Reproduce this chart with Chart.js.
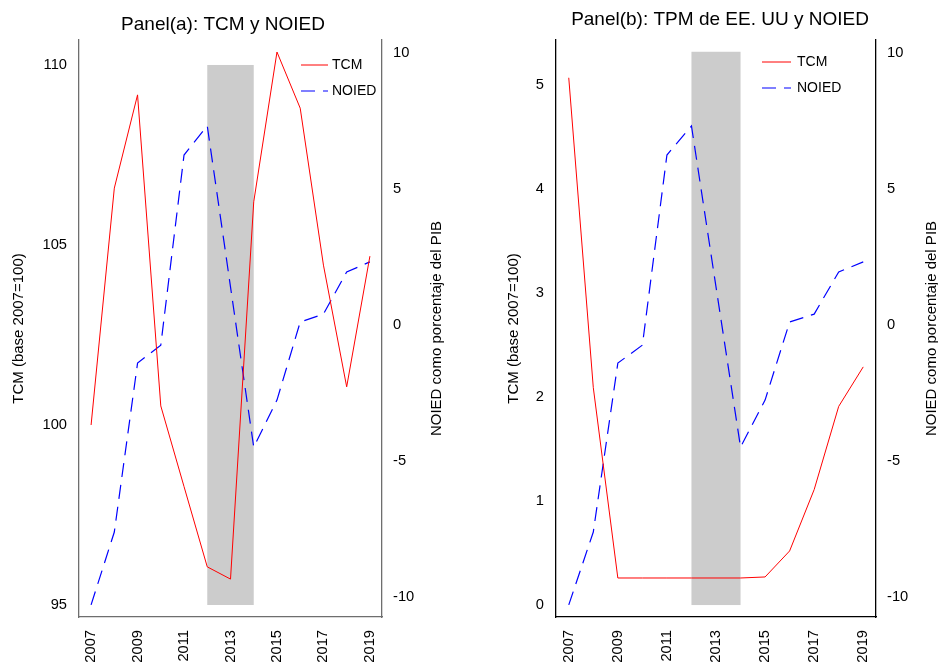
<!DOCTYPE html>
<html>
<head>
<meta charset="utf-8">
<script src="https://cdn.jsdelivr.net/npm/chart.js@4.4.1/dist/chart.umd.min.js"></script>
<style>
  body { margin: 0; background: #fff; }
  .wrap { display: flex; width: 938px; height: 663px; }
  canvas { display: block; }
</style>
</head>
<body>
<div class="wrap">
  <canvas id="panelA" width="469" height="663"></canvas>
  <canvas id="panelB" width="469" height="663"></canvas>
</div>
<script>
// values
const years = [2007, 2008, 2009, 2010, 2011, 2012, 2013, 2014, 2015, 2016, 2017, 2018, 2019];
const tcm = [100.0, 106.58, 109.17, 100.53, 98.29, 96.06, 95.72, 106.2, 110.36, 108.8, 104.44, 101.06, 104.69];
const tpm = [5.07, 2.09, 0.26, 0.26, 0.26, 0.26, 0.26, 0.26, 0.27, 0.52, 1.11, 1.91, 2.29];
const noied = [-10.29, -7.61, -1.40, -0.74, 6.25, 7.32, 1.4, -4.49, -2.76, 0.11, 0.40, 1.95, 2.32];

const yearTicks = [2007, 2009, 2011, 2013, 2015, 2017, 2019];
const tcmTicks = [95, 100, 105, 110];
const tpmTicks = [0, 1, 2, 3, 4, 5];
const noiedTicks = [-10, -5, 0, 5, 10];

// shaded period
const shadeYears = [2012, 2014];
const shadeA = [95, 110];
const shadeB = [0, 5.32];

const FONT = '"Liberation Sans", Arial, Helvetica, sans-serif';
const TICK_SIZE = 14.7;
Chart.defaults.font.family = FONT;
Chart.defaults.color = '#000';

const shadePlugin = {
  id: 'shade',
  beforeDatasetsDraw(chart, args, opts) {
    const { ctx, scales: { x, y } } = chart;
    const left = x.getPixelForValue(opts.years[0]);
    const right = x.getPixelForValue(opts.years[1]);
    const top = y.getPixelForValue(opts.range[1]);
    const bottom = y.getPixelForValue(opts.range[0]);
    ctx.save();
    ctx.fillStyle = '#cccccc';
    ctx.fillRect(left, top, right - left, bottom - top);
    ctx.restore();
  }
};

// legend drawn inside the plot, top right
const innerLegend = {
  id: 'innerLegend',
  afterDatasetsDraw(chart, args, opts) {
    const { ctx, chartArea } = chart;
    ctx.save();
    ctx.font = '14px ' + FONT;
    ctx.textBaseline = 'middle';
    chart.data.datasets.forEach((ds, i) => {
      const y = chartArea.top + opts.top + i * opts.gap;
      const x0 = chartArea.right - opts.right;
      ctx.strokeStyle = ds.borderColor;
      ctx.lineWidth = ds.borderWidth;
      ctx.setLineDash(ds.borderDash || []);
      ctx.beginPath();
      ctx.moveTo(x0, y);
      ctx.lineTo(x0 + opts.len, y);
      ctx.stroke();
      ctx.setLineDash([]);
      ctx.fillStyle = '#000';
      ctx.fillText(ds.label, x0 + opts.len + opts.textGap, y);
    });
    ctx.restore();
  }
};

// right axis title, reading bottom to top
const rightTitle = {
  id: 'rightTitle',
  afterDraw(chart, args, opts) {
    const { ctx, chartArea } = chart;
    const s = chart.scales.y1;
    ctx.save();
    ctx.font = '15px ' + FONT;
    ctx.fillStyle = '#000';
    ctx.textAlign = 'center';
    ctx.textBaseline = 'middle';
    ctx.translate(s.right - opts.offset, (chartArea.top + chartArea.bottom) / 2);
    ctx.rotate(-Math.PI / 2);
    ctx.fillText(opts.text, 0, 0);
    ctx.restore();
  }
};

function buildPanel(id, p) {
  const setTicks = arr => scale => { scale.ticks = arr.map(v => ({ value: v })); };
  const noGrid = { display: false, drawTicks: false, tickLength: 0 };
  return new Chart(document.getElementById(id), {
    type: 'line',
    data: {
      datasets: [{
        label: 'TCM',
        data: years.map((yr, i) => ({ x: yr, y: p.left[i] })),
        yAxisID: 'y',
        borderColor: '#ff0000',
        borderWidth: 1,
        pointRadius: 0,
        tension: 0
      }, {
        label: 'NOIED',
        data: years.map((yr, i) => ({ x: yr, y: noied[i] })),
        yAxisID: 'y1',
        borderColor: '#0000ff',
        borderWidth: 1.2,
        borderDash: [14, 8],
        pointRadius: 0,
        tension: 0
      }]
    },
    options: {
      responsive: false,
      animation: false,
      events: [],
      layout: { padding: p.padding },
      plugins: {
        legend: { display: false },
        tooltip: { enabled: false },
        title: {
          display: true,
          text: p.title,
          font: { size: 19, weight: 'normal' },
          color: '#000',
          padding: p.titlePad
        },
        shade: { years: shadeYears, range: p.shade },
        innerLegend: p.legend,
        rightTitle: { text: 'NOIED como porcentaje del PIB', offset: p.rightTitleOffset }
      },
      scales: {
        x: {
          type: 'linear',
          min: 2006.48,
          max: 2019.52,
          grid: noGrid,
          border: { display: true, color: p.axisColor, width: 1.3 },
          afterBuildTicks: setTicks(yearTicks),
          afterFit: s => { s.height = 46; },
          ticks: {
            autoSkip: false,
            minRotation: 90,
            maxRotation: 90,
            padding: 13,
            font: { size: TICK_SIZE },
            callback: v => String(v)
          }
        },
        y: {
          position: 'left',
          min: p.leftMin,
          max: p.leftMax,
          grid: noGrid,
          border: { display: true, color: p.axisColor, width: 1.3 },
          afterBuildTicks: setTicks(p.leftTicks),
          afterFit: s => { s.width = p.leftWidth; },
          ticks: { padding: 12, font: { size: TICK_SIZE }, callback: v => String(v) },
          title: {
            display: true,
            text: 'TCM (base 2007=100)',
            font: { size: 15 },
            padding: { top: p.leftTitlePad, bottom: 0 }
          }
        },
        y1: {
          position: 'right',
          min: -10.735,
          max: 10.478,
          grid: noGrid,
          border: { display: true, color: p.axisColor, width: 1.3 },
          afterBuildTicks: setTicks(noiedTicks),
          afterFit: s => { s.width = p.rightWidth; },
          ticks: { padding: 11, font: { size: TICK_SIZE }, callback: v => String(v) }
        }
      }
    },
    plugins: [shadePlugin, innerLegend, rightTitle]
  });
}

buildPanel('panelA', {
  title: 'Panel(a): TCM y NOIED',
  titlePad: { top: 13.6, bottom: 3.6 },
  left: tcm,
  leftMin: 94.667,
  leftMax: 110.694,
  leftTicks: tcmTicks,
  shade: shadeA,
  padding: { left: 0, right: 23, top: 0, bottom: 0 },
  leftWidth: 79,
  rightWidth: 64,
  leftTitlePad: 10,
  rightTitleOffset: 9,
  axisColor: '#6e6e6e',
  legend: { top: 25, gap: 26, right: 81, len: 27, textGap: 4 }
});

buildPanel('panelB', {
  title: 'Panel(b): TPM de EE. UU y NOIED',
  titlePad: { top: 8.6, bottom: 8.6 },
  left: tpm,
  leftMin: -0.115,
  leftMax: 5.433,
  leftTicks: tpmTicks,
  shade: shadeB,
  padding: { left: 33, right: 0, top: 0, bottom: 0 },
  leftWidth: 54,
  rightWidth: 62,
  leftTitlePad: 3,
  rightTitleOffset: 6,
  axisColor: '#000',
  legend: { top: 22, gap: 26, right: 114, len: 29, textGap: 6 }
});
</script>
</body>
</html>
